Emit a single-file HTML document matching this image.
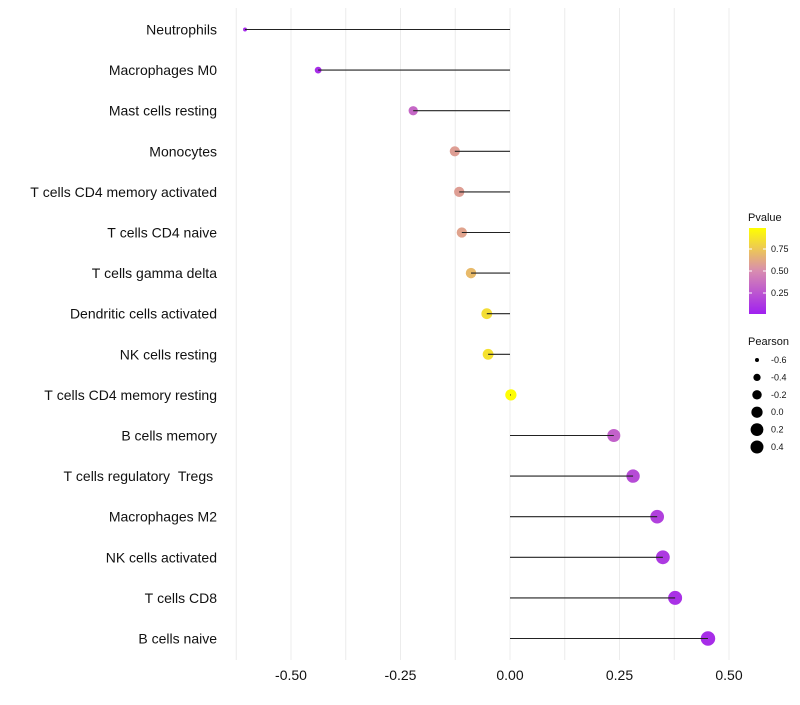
<!DOCTYPE html>
<html><head><meta charset="utf-8"><style>
body{margin:0;background:#fff;font-family:"Liberation Sans",sans-serif}
</style></head><body>
<svg id="chart" width="800" height="700" xmlns="http://www.w3.org/2000/svg" font-family="Liberation Sans, sans-serif"></svg>
<script>
const categories=["Neutrophils","Macrophages M0","Mast cells resting","Monocytes","T cells CD4 memory activated","T cells CD4 naive","T cells gamma delta","Dendritic cells activated","NK cells resting","T cells CD4 memory resting","B cells memory","T cells regulatory  Tregs ","Macrophages M2","NK cells activated","T cells CD8","B cells naive"];
const pearson=[-0.605,-0.438,-0.221,-0.126,-0.116,-0.110,-0.089,-0.053,-0.050,0.002,0.237,0.281,0.336,0.349,0.377,0.452];
const pvalue=[0.05,0.06,0.33,0.58,0.58,0.6,0.7,0.85,0.87,0.99,0.3,0.2,0.15,0.12,0.08,0.06];
const xTicks=[-0.5,-0.25,0,0.25,0.5];
const xTickLabels=["-0.50","-0.25","0.00","0.25","0.50"];
const sizeLegend=[-0.6,-0.4,-0.2,0.0,0.2,0.4];
const pTicks=[0.25,0.5,0.75];
const NS="http://www.w3.org/2000/svg";
const svg=document.getElementById('chart');
const xs=v=>510+v*438;
const ys=i=>29.5+i*40.6;
const rs=v=>Math.sqrt(Math.max(1,4+46*(v+0.6)));
function col(p){
  const stops=[[0,[160,32,240]],[0.5,[216,140,176]],[1,[255,255,0]]];
  let a=stops[0],b=stops[1];if(p>0.5){a=stops[1];b=stops[2];}
  const t=(p-a[0])/(b[0]-a[0]);
  const c=a[1].map((v,k)=>Math.round(v+(b[1][k]-v)*t));
  return `rgb(${c})`;
}
function el(tag,attrs,parent){const e=document.createElementNS(NS,tag);for(const k in attrs)e.setAttribute(k,attrs[k]);(parent||svg).appendChild(e);return e;}
const grid=el('g',{});


for(let v=-0.625;v<=0.55;v+=0.125){el('line',{x1:xs(v),x2:xs(v),y1:8,y2:660,stroke:'#ececec','stroke-width':1},grid);}
xTicks.forEach((v,i)=>{const t=el('text',{x:xs(v),y:680,'text-anchor':'middle','font-size':14,fill:'#111'});t.textContent=xTickLabels[i];

});
categories.forEach((c,i)=>{
  const y=ys(i);
  const lab=el('text',{x:217,y:y+5,'text-anchor':'end','font-size':14,fill:'#111'});lab.textContent=c.replace(/ /g,'\u00a0');
  
  
  const pt=el('circle',{cx:xs(pearson[i]),cy:y,r:rs(pearson[i]),fill:col(pvalue[i])});
  
  
  const ln=el('line',{x1:xs(0),x2:xs(pearson[i]),y1:y,y2:y,stroke:'#222','stroke-width':1.1});
  
  
});
const lg=el('g',{});


const defs=el('defs',{});
const gr=el('linearGradient',{id:'pg',x1:0,y1:1,x2:0,y2:0},defs);
[0,0.25,0.5,0.75,1].forEach(s=>el('stop',{offset:s,'stop-color':col(s)},gr));
let t=el('text',{x:748,y:221,'font-size':11,fill:'#111'},lg);t.textContent='Pvalue';
el('rect',{x:749,y:228,width:17,height:86,fill:'url(#pg)'},lg);
pTicks.forEach(p=>{const y=315-p*88;el('line',{x1:749,x2:752,y1:y,y2:y,stroke:'#fff'},lg);el('line',{x1:763,x2:766,y1:y,y2:y,stroke:'#fff'},lg);
const tt=el('text',{x:771,y:y+3,'font-size':9,fill:'#111'},lg);tt.textContent=p.toFixed(2);});
const sg=el('g',{});


t=el('text',{x:748,y:345,'font-size':11,fill:'#111'},sg);t.textContent='Pearson';
sizeLegend.forEach((v,i)=>{const y=360+i*17.4;el('circle',{cx:757,cy:y,r:Math.min(6.5,rs(v)),fill:'#000'},sg);
const tt=el('text',{x:771,y:y+3,'font-size':9,fill:'#111'},sg);tt.textContent=v.toFixed(1);});
</script>
</body></html>
